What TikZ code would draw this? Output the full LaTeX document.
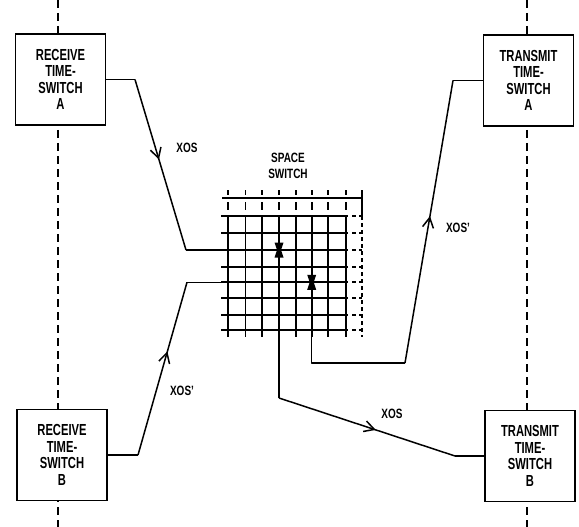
\documentclass[tikz,border=0pt]{standalone}
\usepackage{fontspec}
\newfontfamily\labfont{Liberation Sans}[FakeStretch=0.74]
\newfontfamily\boxfont{Liberation Sans}[FakeStretch=0.7]
\usetikzlibrary{arrows.meta,decorations.markings}
\tikzset{
  wire/.style={line width=1.5pt, line join=round},
  tsbox/.style={draw, line width=1.7pt, fill=white, minimum width=90pt, minimum height=91pt,
     align=center, inner sep=0pt, font=\boxfont\bfseries\fontsize{16}{16.5}\selectfont},
  lbl/.style={font=\labfont\bfseries\fontsize{13.5}{15.5}\selectfont, inner sep=0pt},
  axis/.style={line width=1.4pt, dash pattern=on 8pt off 5pt},
  gridline/.style={line width=1.9pt},
  flowarrow/.style={postaction={decorate,decoration={markings,
     mark=at position #1 with {\arrow{Straight Barb[length=10pt,width=11pt,line width=1.5pt]}}}}}
}
\begin{document}
\begin{tikzpicture}[x=1pt,y=-1pt]
\useasboundingbox (0,0) rectangle (579,527);
% dashed axes
\draw[axis] (58,0) -- (58,527);
\draw[axis] (527,0) -- (527,527);
% boxes
\node[tsbox] (RA) at (60.5,79.5) {RECEIVE\\TIME-\\SWITCH\\A};
\node[tsbox] (TA) at (528.5,80.5) {TRANSMIT\\TIME-\\SWITCH\\A};
\node[tsbox] (RB) at (62,455) {RECEIVE\\TIME-\\SWITCH\\B};
\node[tsbox] (TB) at (530,456) {TRANSMIT\\TIME-\\SWITCH\\B};
% space switch grid
\def\cols{228,245.5,262,279,295.7,311.7,328.3,345.7}
\def\rows{215.7,232.7,250,266.7,282.3,298.3,315,330}
\foreach \x in \cols {
  \draw[gridline] (\x,190) -- (\x,195);
  \draw[gridline] (\x,202) -- (\x,210);
  \draw[gridline] (\x,215) -- (\x,337);
}
\foreach \y in \rows {
  \draw[gridline] (221,\y) -- (348,\y);
  \draw[gridline] (352,\y) -- (356,\y);
  \draw[gridline] (359,\y) -- (362,\y);
}
\draw[gridline] (222,198) -- (362,198);
\draw[gridline] (362,190) -- (362,216);
\draw[gridline, dash pattern=on 4pt off 3pt] (362,216) -- (362,337);
\coordinate (g1) at (221,250);
\coordinate (g2) at (221,282.3);
\coordinate (g3) at (311.7,337);
\coordinate (g4) at (279,337);
% crosspoints
\foreach \cx/\cy in {279/250, 311.7/282.3} {
  \fill (\cx-4.5,\cy-7.5) -- (\cx+4.5,\cy-7.5) -- (\cx+2,\cy) -- (\cx+4.5,\cy+7.5)
        -- (\cx-4.5,\cy+7.5) -- (\cx-2,\cy) -- cycle;
}
\node[lbl, align=center] (ss) at (288,166) {SPACE\\SWITCH};
% connectors
\coordinate (a1) at (135,79.5);
\coordinate (a2) at (186,250);
\draw[wire] (RA.east) -- (a1);
\draw[wire, flowarrow=0.47] (a1) -- (a2);
\draw[wire] (a2) -- (g1);

\coordinate (b1) at (138,455);
\coordinate (b2) at (187,282.3);
\draw[wire] (RB.east) -- (b1);
\draw[wire, flowarrow=0.6] (b1) -- (b2);
\draw[wire] (b2) -- (g2);

\coordinate (c1) at (311.7,363);
\coordinate (c2) at (405,363);
\coordinate (c3) at (453,80.5);
\draw[wire] (g3) -- (c1) -- (c2);
\draw[wire, flowarrow=0.52] (c2) -- (c3);
\draw[wire] (c3) -- (TA.west);

\coordinate (d1) at (279,398);
\coordinate (d2) at (455,456);
\draw[wire] (g4) -- (d1);
\draw[wire, flowarrow=0.55] (d1) -- (d2);
\draw[wire] (d2) -- (TB.west);
% labels
\node[lbl] (l1) at (187,148) {XOS};
\node[lbl] (l2) at (182,391) {XOS’};
\node[lbl] (l3) at (458,228) {XOS’};
\node[lbl] (l4) at (392,414) {XOS};
\end{tikzpicture}
\end{document}
